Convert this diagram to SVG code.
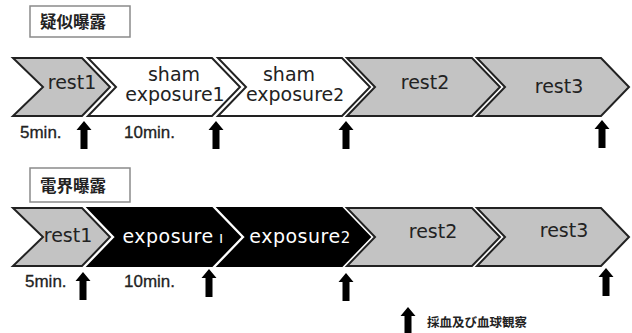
<svg xmlns="http://www.w3.org/2000/svg" width="632" height="333" viewBox="0 0 632 333">
<style>
.lbl{fill:#fff;stroke:#8a8a8a;stroke-width:1.5}
.ttl{font-family:"Noto Sans CJK JP",sans-serif;font-weight:bold;font-size:16.5px;fill:#222}
.gr{fill:#c3c3c3;stroke:#222;stroke-width:2;stroke-linejoin:miter}
.wh{fill:#fff;stroke:#222;stroke-width:2}
.bk{fill:#000;stroke:#000;stroke-width:2}
.t{font-family:"DejaVu Sans",sans-serif;font-size:19px;fill:#222;text-anchor:middle}
.tw{font-family:"DejaVu Sans",sans-serif;font-size:19px;fill:#fff;text-anchor:middle}
.tm{font-family:"Liberation Sans",Arial,sans-serif;font-size:17px;fill:#222;stroke:#222;stroke-width:0.3}
.leg{font-family:"Noto Sans CJK JP",sans-serif;font-weight:bold;font-size:12.5px;fill:#222}
</style>
<defs>
<path id="arr" d="M0,0 L7.5,9 L3.5,9 L3.5,28 L-3.5,28 L-3.5,9 L-7.5,9 Z" fill="#000"/>
</defs>

<g id="label-sham">
<rect class="lbl" x="30" y="6" width="100" height="31"/>
<text class="ttl" x="40" y="28">疑似曝露</text>
</g>

<g id="sham-rest1">
<polygon class="gr" points="13,58 82,58 110,87 82,116 13,116 43,87"/>
<text class="t" x="72" y="89">rest1</text>
</g>
<g id="sham-exposure1">
<polygon class="wh" points="88,58 212,58 240,87 212,116 88,116 116,87"/>
<text class="t" x="174" y="81" font-size="18.5">sham</text>
<text class="t" x="175" y="101">exposure1</text>
</g>
<g id="sham-exposure2">
<polygon class="wh" points="218,58 342,58 370,87 342,116 218,116 246,87"/>
<text class="t" x="289" y="81" font-size="18.5">sham</text>
<text class="t" x="295" y="101">exposure<tspan font-size="17">2</tspan></text>
</g>
<g id="sham-rest2">
<polygon class="gr" points="347,58 472,58 500,87 472,116 347,116 375,87"/>
<text class="t" x="425" y="89">rest2</text>
</g>
<g id="sham-rest3">
<polygon class="gr" points="477,58 601,58 629,87 601,116 477,116 505,87"/>
<text class="t" x="559" y="93">rest3</text>
</g>
<text class="tm" x="20" y="138">5min.</text>
<text class="tm" x="124" y="138">10min.</text>

<g id="label-field">
<rect class="lbl" x="30" y="168" width="100" height="34"/>
<text class="ttl" x="40" y="192">電界曝露</text>
</g>

<g id="field-rest1">
<polygon class="gr" points="13,208 82,208 110,237 82,266 13,266 43,237"/>
<text class="t" x="68" y="242">rest1</text>
</g>
<g id="field-exposure1">
<polygon class="bk" points="88,208 212,208 240,237 212,266 88,266 116,237"/>
<text class="tw" x="173" y="243" letter-spacing="0.5">exposure<tspan font-size="15"> ı</tspan></text>
</g>
<g id="field-exposure2">
<polygon class="bk" points="218,208 342,208 370,237 342,266 218,266 246,237"/>
<text class="tw" x="300" y="243" letter-spacing="0.5">exposure<tspan font-size="15">2</tspan></text>
</g>
<g id="field-rest2">
<polygon class="gr" points="347,208 472,208 500,237 472,266 347,266 375,237"/>
<text class="t" x="433" y="238">rest2</text>
</g>
<g id="field-rest3">
<polygon class="gr" points="477,208 601,208 629,237 601,266 477,266 505,237"/>
<text class="t" x="564" y="237">rest3</text>
</g>
<text class="tm" x="25" y="287">5min.</text>
<text class="tm" x="124" y="287">10min.</text>

<g id="connectors">
<use href="#arr" x="84" y="121"/>
<use href="#arr" x="216" y="121"/>
<use href="#arr" x="346" y="121"/>
<use href="#arr" x="602" y="120"/>
<use href="#arr" x="83" y="272"/>
<use href="#arr" x="209" y="269"/>
<use href="#arr" x="346" y="273"/>
<use href="#arr" x="606" y="268"/>
<use href="#arr" x="408" y="307"/>
</g>
<text class="leg" x="427" y="327">採血及び血球観察</text>
</svg>
